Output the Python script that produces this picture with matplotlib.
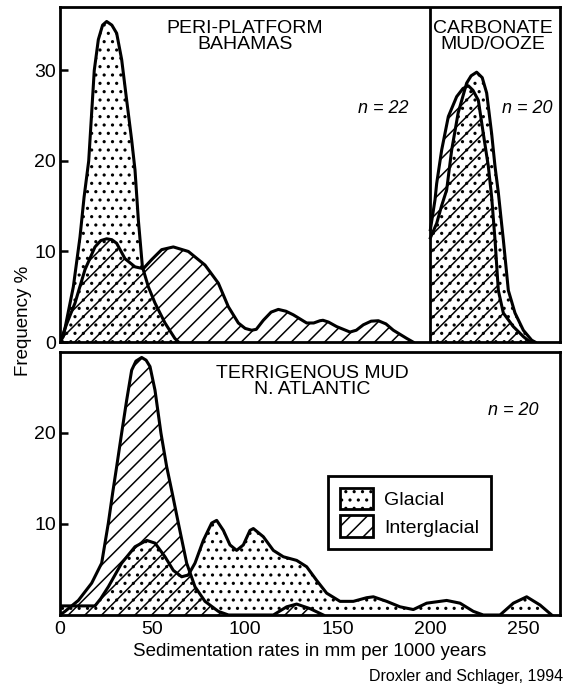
import matplotlib

matplotlib.use("Agg")
import matplotlib.pyplot as plt
from matplotlib.patches import Patch

plt.rcParams["font.family"] = ["Liberation Sans", "DejaVu Sans"]
plt.rcParams["hatch.linewidth"] = 1.1

# --- data (x = sedimentation rate, y = frequency %) ---
# Peri-platform, Bahamas
peri_gl_x = [0, 1.8, 7.2, 10.8, 13, 15.5, 17, 18.5, 20.7, 23, 25.2, 28, 30.6,
             33.3, 36, 38.7, 40.5, 42.3, 44.5, 47.7, 51.3, 56.7, 62, 64]
peri_gl_y = [0, 0.6, 6.1, 11.6, 16, 20, 25, 30, 33.4, 35, 35.4, 35, 34.1,
             31.2, 26.7, 22.3, 19, 13.5, 8.3, 6.1, 4.3, 2.1, 0.4, 0]
peri_ig_x = [0, 4, 8.1, 13.5, 18.9, 22, 25.2, 28, 30.6, 35.1, 40.5, 45, 49.5,
             54.9, 61.2, 69.3, 78.3, 85.5, 90.9, 96.3, 100, 103.5, 106, 109.8,
             114, 117.9, 122, 126, 133.2, 137, 140.4, 142, 145, 149.4, 156.6,
             160, 163.8, 168, 171.9, 176, 180, 187.2, 190.6]
peri_ig_y = [0, 2.2, 4.3, 8, 10.5, 11.2, 11.4, 11.3, 10.9, 9.2, 8.3, 8.1, 9.1,
             10.2, 10.5, 10.0, 8.5, 6.5, 3.9, 2.1, 1.5, 1.3, 1.4, 2.4,
             3.3, 3.6, 3.4, 3.0, 2.1, 2.1, 2.35, 2.4, 2.2, 1.7, 1.1,
             1.3, 1.9, 2.3, 2.35, 2.0, 1.3, 0.4, 0]

# Carbonate mud / ooze
carb_gl_x = [200, 203.4, 206, 208.8, 211.5, 215, 219.6, 222, 225, 228, 230.4,
             233.1, 234.9, 236.7, 238.5, 239.4, 242.1, 245.7, 250.2, 254.7, 256.5]
carb_gl_y = [11.5, 13.1, 15, 16.8, 21.2, 25.3, 28.6, 29.4, 29.8, 29.2, 27.5,
             23.0, 19.4, 16.5, 13, 11.3, 5.7, 3.2, 1.3, 0.2, 0]
carb_ig_x = [200, 202.5, 203.4, 206.1, 209.7, 214.2, 217.6, 220.5, 223, 225.9,
             228.6, 231.3, 233.1, 234.9, 236.7, 239.4, 244.8, 250.2, 253.8]
carb_ig_y = [12.4, 15.7, 17.5, 21.2, 24.9, 27.1, 28.0, 28.3, 27.8, 26.7,
             23.0, 19.4, 16, 11.3, 5.7, 3.2, 1.7, 0.6, 0]

# Terrigenous mud, N. Atlantic
terr_gl_x = [0, 10, 18.9, 22, 26.1, 33.3, 40.5, 46.8, 51.3, 56.7, 61.2, 65.7,
             69.3, 72.9, 77.4, 81.9, 84.6, 88.2, 91.8, 95.4, 99, 102.6, 104.4,
             109.8, 115.2, 120.6, 127.8, 133.2, 138.6, 144, 151.2, 158.4, 165.6,
             169.2, 176.4, 183.6, 190.8, 198, 208.8, 216, 223.2, 228.6, 237.6,
             244.8, 252, 259.2, 265.5]
terr_gl_y = [1.0, 1.0, 1.0, 1.8, 3.1, 5.7, 7.5, 8.2, 7.9, 6.4, 4.9, 4.2,
             4.4, 5.7, 8.2, 10.1, 10.4, 9.3, 7.7, 7.1, 7.7, 9.3, 9.5,
             8.6, 7.1, 6.4, 6.0, 5.3, 3.8, 2.4, 1.5, 1.5, 1.9,
             2.0, 1.5, 0.9, 0.6, 1.3, 1.6, 1.3, 0.4, 0, 0,
             1.3, 2.0, 1.1, 0]
terr_ig_x = [0, 2.7, 9.9, 17.1, 22.5, 26.1, 28.5, 30.6, 33.3, 36, 38.7, 41,
             44.1, 46.5, 48.6, 51.3, 54.5, 57.6, 60.5, 63.9, 68.4, 72.9, 78.3,
             85.5, 91, 115.2, 122.4, 127.8, 135, 142.2]
terr_ig_y = [0, 0.4, 1.6, 3.5, 5.7, 10.1, 13.5, 16.3, 20, 23.6, 26.9, 27.9,
             28.3, 28.0, 27.3, 24.7, 20, 16.3, 13.5, 10.1, 5.7, 3.1, 1.5,
             0.4, 0, 0, 0.9, 1.2, 0.7, 0]

x_ticks = [0, 50, 100, 150, 200, 250]

LW = 2.2
GL_HATCH = ".."
IG_HATCH = "//"


def draw_pair(ax, gx, gy, ix, iy):
    ax.fill_between(gx, 0, gy, facecolor="none", edgecolor="black",
                    hatch=GL_HATCH, linewidth=0)
    ax.fill_between(ix, 0, iy, facecolor="none", edgecolor="black",
                    hatch=IG_HATCH, linewidth=0)
    ax.plot(gx, gy, color="black", lw=LW, solid_joinstyle="round")
    ax.plot(ix, iy, color="black", lw=LW, solid_joinstyle="round")


fig = plt.figure(figsize=(5.64, 6.91), dpi=100)
ax_top = fig.add_axes([60 / 564, 1 - 342 / 691, 500 / 564, 335 / 691])
ax_bot = fig.add_axes([60 / 564, 1 - 615 / 691, 500 / 564, 263 / 691])

draw_pair(ax_top, peri_gl_x, peri_gl_y, peri_ig_x, peri_ig_y)
draw_pair(ax_top, carb_gl_x, carb_gl_y, carb_ig_x, carb_ig_y)
ax_top.axvline(200, color="black", lw=2)
draw_pair(ax_bot, terr_gl_x, terr_gl_y, terr_ig_x, terr_ig_y)

for ax in (ax_top, ax_bot):
    ax.set_xlim(0, 270)
    for s in ax.spines.values():
        s.set_linewidth(2)
    ax.tick_params(axis="y", direction="in", length=6, width=1.8,
                   labelsize=14, pad=3)
    ax.tick_params(axis="x", length=0, labelsize=14, pad=4)

ax_top.set_ylim(0, 37)
ax_top.set_yticks([0, 10, 20, 30])
ax_top.set_xticks([])
ax_bot.set_ylim(0, 28.9)
ax_bot.set_yticks([10, 20])
ax_bot.set_xticks(x_ticks)

ax_top.text(0.37, 0.962, "PERI-PLATFORM\nBAHAMAS", transform=ax_top.transAxes,
            ha="center", va="top", fontsize=14, linespacing=0.95)
ax_top.text(0.866, 0.962, "CARBONATE\nMUD/OOZE", transform=ax_top.transAxes,
            ha="center", va="top", fontsize=14, linespacing=0.95)
ax_top.text(0.696, 0.698, "n = 22", transform=ax_top.transAxes,
            ha="right", va="center", fontsize=13, style="italic")
ax_top.text(0.984, 0.698, "n = 20", transform=ax_top.transAxes,
            ha="right", va="center", fontsize=13, style="italic")
ax_bot.text(0.504, 0.95, "TERRIGENOUS MUD\nN. ATLANTIC", transform=ax_bot.transAxes,
            ha="center", va="top", fontsize=14, linespacing=0.95)
ax_bot.text(0.956, 0.776, "n = 20", transform=ax_bot.transAxes,
            ha="right", va="center", fontsize=13, style="italic")

handles = [
    Patch(facecolor="white", edgecolor="black", hatch=GL_HATCH, lw=2, label="Glacial"),
    Patch(facecolor="white", edgecolor="black", hatch=IG_HATCH, lw=2, label="Interglacial"),
]
leg = ax_bot.legend(handles=handles, loc="upper left", bbox_to_anchor=(0.536, 0.529),
                    fontsize=14, handlelength=1.7, handleheight=1.35,
                    handletextpad=0.6, labelspacing=0.3, borderpad=0.6,
                    borderaxespad=0, fancybox=False, framealpha=1)
leg.get_frame().set_edgecolor("black")
leg.get_frame().set_linewidth(2)

fig.text(23 / 564, 1 - 321 / 691, "Frequency %", rotation=90,
         ha="center", va="center", fontsize=13.5)
fig.text(310 / 564, 1 - 651 / 691, "Sedimentation rates in mm per 1000 years",
         ha="center", va="center", fontsize=13.5)
fig.text(563 / 564, 1 - 676 / 691, "Droxler and Schlager, 1994",
         ha="right", va="center", fontsize=11.5)

fig.savefig("out.png", dpi=100)
